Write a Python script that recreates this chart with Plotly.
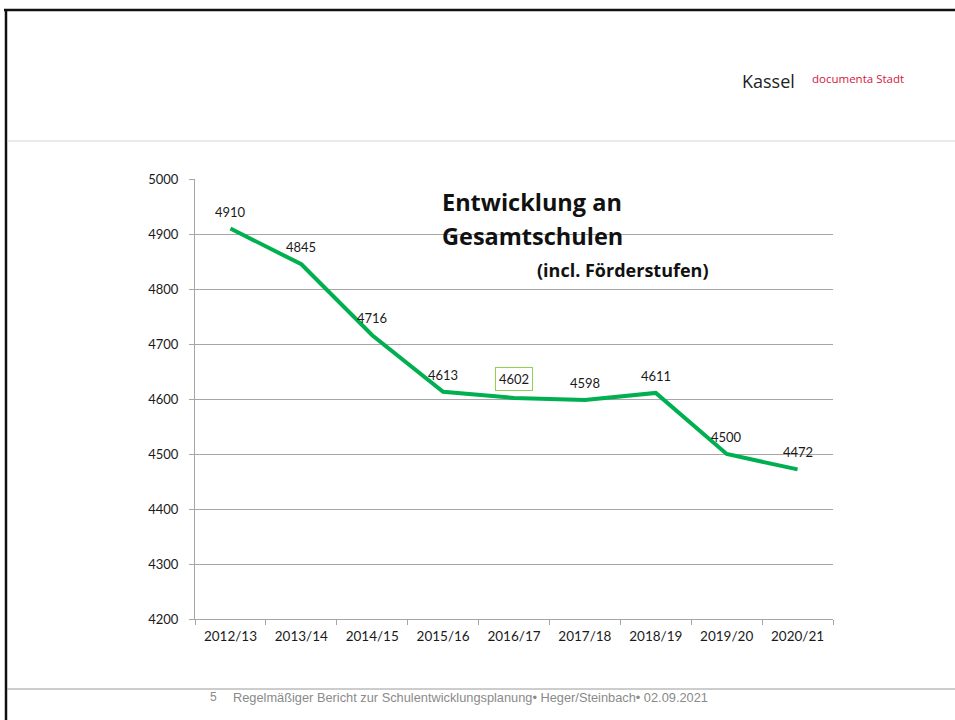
import plotly.graph_objects as go

# ---- data ----
years = ["2012/13", "2013/14", "2014/15", "2015/16", "2016/17",
         "2017/18", "2018/19", "2019/20", "2020/21"]
students = [4910, 4845, 4716, 4613, 4602, 4598, 4611, 4500, 4472]
y_ticks = [4200, 4300, 4400, 4500, 4600, 4700, 4800, 4900, 5000]
highlight_index = 4

title_line1 = "Entwicklung an"
title_line2 = "Gesamtschulen"
subtitle = "(incl. Förderstufen)"
footer_page = "5"
footer_text = "Regelmäßiger Bericht zur Schulentwicklungsplanung• Heger/Steinbach• 02.09.2021"

# ---- layout geometry (pixels) ----
W, H = 955, 720
L, R, T, B = 195, 833, 179, 619
PW, PH = R - L, B - T


def px(x):
    return (x - L) / PW


def py(y):
    return (B - y) / PH


LABEL_FONT = "Lato, 'Open Sans', sans-serif"
TITLE_FONT = "'Open Sans', Lato, sans-serif"
GRID = "#a6a6a6"

fig = go.Figure()
fig.add_trace(go.Scatter(
    x=years, y=students, mode="lines",
    line=dict(color="#00b050", width=4),
    hoverinfo="x+y", showlegend=False,
))

annotations = []
for i, (yr, v) in enumerate(zip(years, students)):
    a = dict(x=yr, y=v, xref="x", yref="y", text=str(v), showarrow=False,
             yshift=17, font=dict(family=LABEL_FONT, size=13, color="#1a1a1a"))
    if i == highlight_index:
        a.update(bordercolor="#92d050", borderwidth=1, borderpad=3, yshift=19)
    annotations.append(a)

# titles in chart
annotations += [
    dict(x=px(440), y=py(202), xref="paper", yref="paper", xanchor="left", yanchor="middle",
         text="<b>" + title_line1 + "</b>", showarrow=False,
         font=dict(family=TITLE_FONT, size=23.5, color="#111111")),
    dict(x=px(440), y=py(236), xref="paper", yref="paper", xanchor="left", yanchor="middle",
         text="<b>" + title_line2 + "</b>", showarrow=False,
         font=dict(family=TITLE_FONT, size=23.5, color="#111111")),
    dict(x=px(535), y=py(270), xref="paper", yref="paper", xanchor="left", yanchor="middle",
         text="<b>" + subtitle + "</b>", showarrow=False,
         font=dict(family=TITLE_FONT, size=18, color="#111111")),
    # header
    dict(x=px(740), y=py(81), xref="paper", yref="paper", xanchor="left", yanchor="middle",
         text="Kassel", showarrow=False,
         font=dict(family="'Open Sans', Lato, sans-serif", size=18, color="#222222")),
    dict(x=px(810), y=py(79), xref="paper", yref="paper", xanchor="left", yanchor="middle",
         text="documenta Stadt", showarrow=False,
         font=dict(family="'Open Sans', Lato, sans-serif", size=11.5, color="#d4163d")),
    # footer
    dict(x=px(208), y=py(697), xref="paper", yref="paper", xanchor="left", yanchor="middle",
         text=footer_page, showarrow=False,
         font=dict(family="'Liberation Sans', Arial, sans-serif", size=12, color="#8a8a8a")),
    dict(x=px(231), y=py(697), xref="paper", yref="paper", xanchor="left", yanchor="middle",
         text=footer_text, showarrow=False,
         font=dict(family="'Liberation Sans', Arial, sans-serif", size=12.8, color="#8a8a8a")),
]

shapes = [
    # slide frame: top and left black borders
    dict(type="line", xref="paper", yref="paper", x0=px(4), x1=px(960), y0=py(10), y1=py(10),
         line=dict(color="#111111", width=2.5)),
    dict(type="line", xref="paper", yref="paper", x0=px(6), x1=px(6), y0=py(9), y1=py(725),
         line=dict(color="#111111", width=2.5)),
    # header separator
    dict(type="line", xref="paper", yref="paper", x0=px(7), x1=px(960), y0=py(141), y1=py(141),
         line=dict(color="#d4d4d4", width=1)),
    # footer separator
    dict(type="line", xref="paper", yref="paper", x0=px(7), x1=px(960), y0=py(689), y1=py(689),
         line=dict(color="#9a9a9a", width=1)),
]

fig.update_layout(
    width=W, height=H,
    margin=dict(l=L, r=W - R, t=T, b=H - B, pad=0),
    paper_bgcolor="white", plot_bgcolor="white",
    font=dict(family=LABEL_FONT, size=12, color="#1a1a1a"),
    annotations=annotations, shapes=shapes, showlegend=False,
    xaxis=dict(type="category", range=[-0.5, len(years) - 0.5], showgrid=False,
               showline=True, linecolor=GRID, linewidth=1,
               ticks="outside", tickson="boundaries", ticklen=5, tickcolor=GRID,
               tickfont=dict(family=LABEL_FONT, size=13.5, color="#1a1a1a"),
               ticklabelstandoff=5, fixedrange=True),
    yaxis=dict(range=[4200, 5000], tickvals=y_ticks, showgrid=True, gridcolor=GRID,
               gridwidth=1, showline=True, linecolor=GRID, linewidth=1,
               ticks="outside", ticklen=5, tickcolor=GRID, zeroline=False,
               tickfont=dict(family=LABEL_FONT, size=13, color="#1a1a1a"),
               ticklabelstandoff=8, fixedrange=True),
)

fig.write_html(
    "out.html",
    config={"displayModeBar": False},
    post_script="document.body.style.margin='0';document.body.style.overflow='hidden';",
)
